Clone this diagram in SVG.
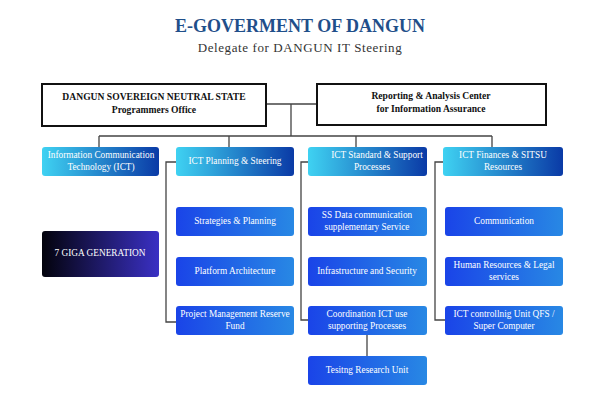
<svg xmlns="http://www.w3.org/2000/svg" width="600" height="400" viewBox="0 0 600 400" font-family="'Liberation Serif', 'DejaVu Serif', serif">
<defs>
<linearGradient id="g2" x1="0" y1="0" x2="1" y2="0"><stop offset="0" stop-color="#3fd2f2"/><stop offset="1" stop-color="#0a3aa6"/></linearGradient>
<linearGradient id="g3" x1="0" y1="0" x2="1" y2="0"><stop offset="0" stop-color="#1a44e8"/><stop offset="1" stop-color="#2888e4"/></linearGradient>
<linearGradient id="g7" x1="0" y1="0" x2="1" y2="0"><stop offset="0" stop-color="#03030c"/><stop offset="1" stop-color="#3a30c4"/></linearGradient>
<style>
text{font-family:'Liberation Serif','DejaVu Serif',serif;text-anchor:middle}
.title{font-size:18px;font-weight:bold;fill:#1f4f8a}
.sub{font-size:13px;fill:#333;letter-spacing:0.6px}
.top rect{fill:#fff;stroke:#111;stroke-width:2}
.top text{font-size:9.6px;font-weight:bold;fill:#111}
.l2 rect{fill:url(#g2)}
.l3 rect{fill:url(#g3)}
.l2 text,.l3 text,.g7 text{font-size:9.3px;fill:#fff}
.g7 rect{fill:url(#g7)}
#connectors path{fill:none;stroke:#444;stroke-width:1.3}
</style>
</defs>
<rect width="600" height="400" fill="#fff"/>
<text class="title" x="300" y="32">E-GOVERMENT OF DANGUN</text>
<text class="sub" x="300" y="52">Delegate for DANGUN IT Steering</text>

<g id="connectors">
<path d="M266 104H317M291 104V136M99 136H492M99 136V147M229 136V147M356 136V147M492 136V147"/>
<path d="M176 162H166V322H176"/>
<path d="M308 162H301V320H308"/>
<path d="M443 162H435V320H445"/>
<path d="M367 335V356"/>
</g>

<g id="n-dangun" class="top"><rect x="42" y="84" width="224" height="42"/><text x="154" y="100">DANGUN SOVEREIGN NEUTRAL STATE</text><text x="154" y="113">Programmers Office</text></g>
<g id="n-reporting" class="top"><rect x="317" y="84" width="229" height="41"/><text x="431" y="99">Reporting &amp; Analysis Center</text><text x="431" y="112">for Information Assurance</text></g>

<g id="n-ict" class="l2"><rect x="42" y="147" width="117" height="29" rx="3"/><text x="101" y="158">Information Communication</text><text x="101" y="170">Technology (ICT)</text></g>
<g id="n-planning" class="l2"><rect x="176" y="147" width="118" height="29" rx="3"/><text x="235" y="163.5">ICT Planning &amp; Steering</text></g>
<g id="n-standard" class="l2"><rect x="308" y="147" width="119" height="29" rx="3"/><text x="377" y="158">ICT Standard &amp; Support</text><text x="372" y="170">Processes</text></g>
<g id="n-finances" class="l2"><rect x="443" y="147" width="120" height="29" rx="3"/><text x="503" y="158">ICT Finances &amp; SITSU</text><text x="503" y="170">Resources</text></g>

<g id="n-7giga" class="g7"><rect x="42" y="231" width="117" height="46" rx="3"/><text x="100" y="256">7 GIGA GENERATION</text></g>

<g id="n-strategies" class="l3"><rect x="176" y="207" width="118" height="29" rx="3"/><text x="235" y="223.5">Strategies &amp; Planning</text></g>
<g id="n-platform" class="l3"><rect x="176" y="257" width="118" height="29" rx="3"/><text x="235" y="273.5">Platform Architecture</text></g>
<g id="n-pmrf" class="l3"><rect x="176" y="306" width="118" height="29" rx="3"/><text x="235" y="317">Project Management Reserve</text><text x="235" y="329">Fund</text></g>

<g id="n-ssdata" class="l3"><rect x="308" y="207" width="119" height="29" rx="3"/><text x="367" y="218">SS Data communication</text><text x="367" y="230">supplementary Service</text></g>
<g id="n-infra" class="l3"><rect x="308" y="257" width="119" height="29" rx="3"/><text x="367" y="273.5">Infrastructure and Security</text></g>
<g id="n-coord" class="l3"><rect x="308" y="306" width="119" height="29" rx="3"/><text x="367" y="317">Coordination ICT use</text><text x="367" y="329">supporting Processes</text></g>
<g id="n-testing" class="l3"><rect x="308" y="356" width="119" height="29" rx="3"/><text x="367" y="372.5">Tesitng Research Unit</text></g>

<g id="n-comm" class="l3"><rect x="445" y="207" width="118" height="29" rx="3"/><text x="504" y="223.5">Communication</text></g>
<g id="n-hr" class="l3"><rect x="445" y="257" width="118" height="29" rx="3"/><text x="504" y="268">Human Resources &amp; Legal</text><text x="504" y="280">services</text></g>
<g id="n-controlling" class="l3"><rect x="445" y="306" width="118" height="29" rx="3"/><text x="504" y="317">ICT controllnig Unit QFS /</text><text x="504" y="329">Super Computer</text></g>
</svg>
